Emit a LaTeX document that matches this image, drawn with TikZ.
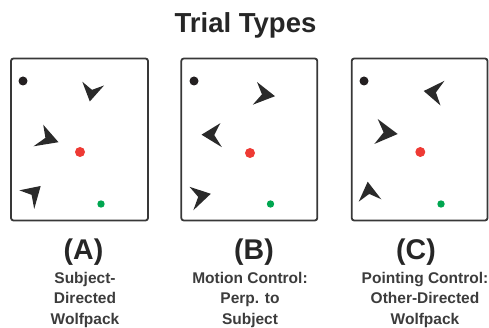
\documentclass[tikz,border=0pt]{standalone}
\usepackage{fontspec}
\setmainfont{Liberation Sans}
\usetikzlibrary{calc}
\definecolor{ink}{HTML}{262626}
\definecolor{dartc}{HTML}{2A2A2A}
\definecolor{framec}{HTML}{383838}
\definecolor{reddot}{HTML}{EE3A34}
\definecolor{greendot}{HTML}{00A650}
\definecolor{blackdot}{HTML}{231F20}
\newcommand{\wolfdart}[3]{\fill[dartc] #1 -- #2 -- ($0.325*#2+0.325*#3+0.35*#1$) -- #3 -- cycle;}
\begin{document}
\begin{tikzpicture}[x=1pt,y=-1pt,
  panel/.style={draw=framec,line width=1.8pt,rounded corners=2.5pt},
  titletext/.style={font=\fontsize{27.5}{30}\selectfont\bfseries,text=ink,inner sep=0pt,anchor=base},
  lettertext/.style={font=\fontsize{28.5}{32}\selectfont\bfseries,text=ink,inner sep=0pt,anchor=base},
  subtext/.style={font=\fontsize{15.5}{18}\selectfont\bfseries,text=ink!90,inner sep=0pt,anchor=base}]
\useasboundingbox (0,0) rectangle (489,328);

\node[titletext] (title) at (245.5,33) {Trial Types};

% panels
\draw[panel] (11,58.5) rectangle (148,220.5);
\draw[panel] (181.3,58.5) rectangle (317.3,220.5);
\draw[panel] (351.7,58.5) rectangle (487.5,220.5);

% Panel A
\fill[blackdot] (23,81) circle (4.5);
\fill[reddot] (80,152) circle (5);
\fill[greendot] (101,204) circle (3.7);
\wolfdart{(89.8,101.5)}{(82.3,81.7)}{(104,85.5)}
\wolfdart{(58.5,142.2)}{(43.2,124.7)}{(33.5,146.3)}
\wolfdart{(40.7,186)}{(19.3,190.3)}{(34.2,209)}

% Panel B
\fill[blackdot] (194,81) circle (4.5);
\fill[reddot] (250,153) circle (5);
\fill[greendot] (270.5,204) circle (3.7);
\wolfdart{(275,96.2)}{(257,82)}{(252.8,104.7)}
\wolfdart{(201.5,134.7)}{(220.3,123.2)}{(221.9,147.2)}
\wolfdart{(210.8,193.8)}{(189.5,186.8)}{(193.3,210.3)}

% Panel C
\fill[blackdot] (364,81) circle (4.5);
\fill[reddot] (420.3,152) circle (5);
\fill[greendot] (441,204) circle (3.7);
\wolfdart{(423.7,91)}{(444.5,80.8)}{(440.5,105.5)}
\wolfdart{(397.7,134)}{(377.7,119)}{(374.3,144)}
\wolfdart{(367.7,181.7)}{(381.3,199.3)}{(358.7,201.7)}

% labels
\node[lettertext] (labA) at (83.5,259) {(A)};
\node[lettertext] (labB) at (254,259) {(B)};
\node[lettertext] (labC) at (416,259) {(C)};

\node[subtext] (a1) at (85,283) {Subject-};
\node[subtext] (a2) at (85,303.5) {Directed};
\node[subtext] (a3) at (85,324) {Wolfpack};

\node[subtext] (b1) at (250,283) {Motion Control:};
\node[subtext] (b2) at (250,303.5) {Perp. to};
\node[subtext] (b3) at (250,324) {Subject};

\node[subtext] (c1) at (425,283) {Pointing Control:};
\node[subtext] (c2) at (425,303.5) {Other-Directed};
\node[subtext] (c3) at (425,324) {Wolfpack};
\end{tikzpicture}
\end{document}
